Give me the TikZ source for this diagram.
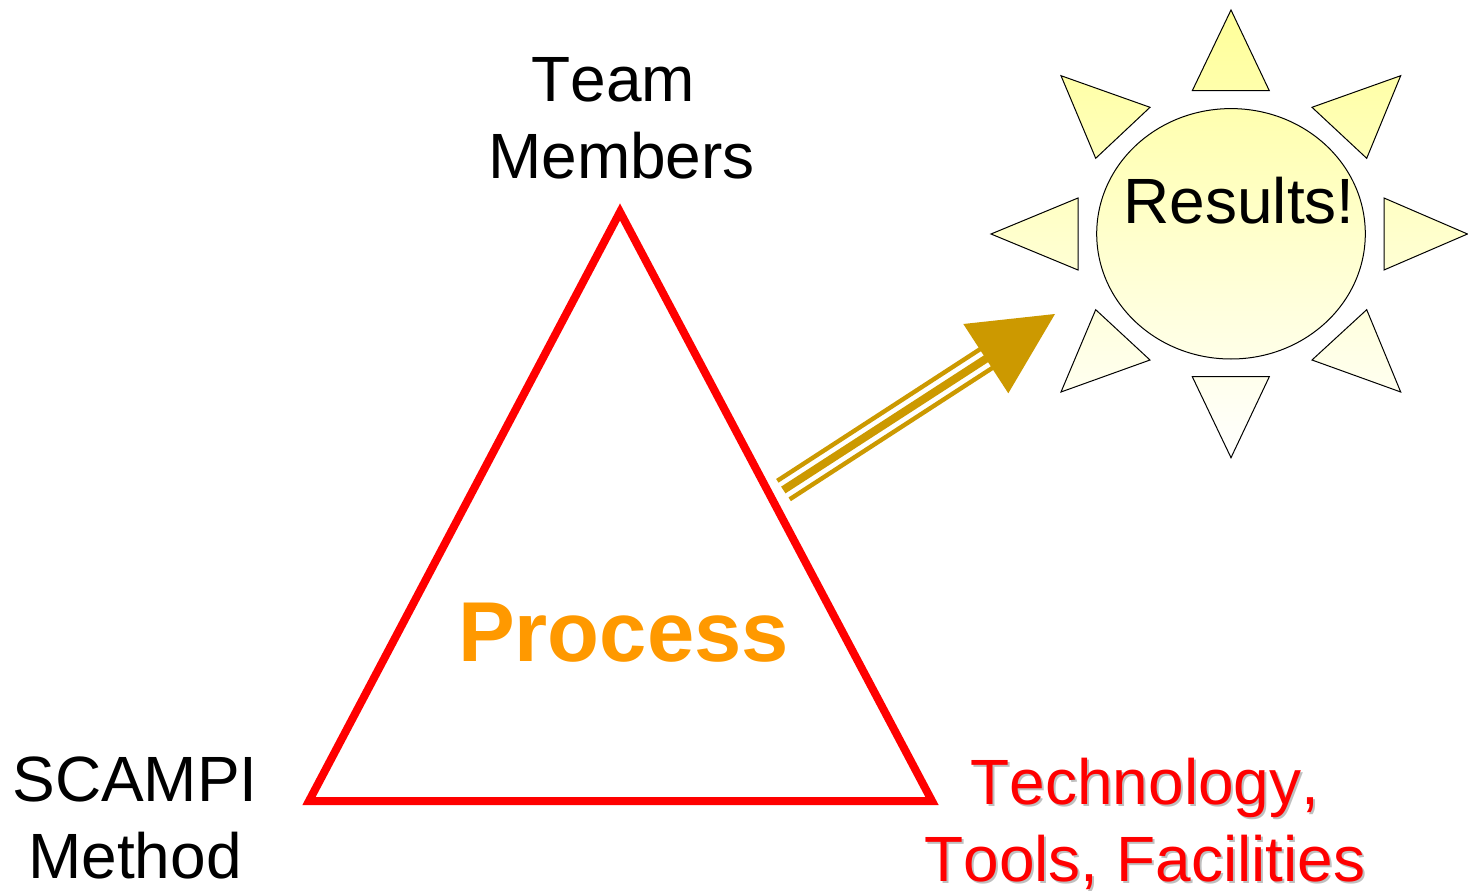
\documentclass[tikz,border=0pt]{standalone}
\usepackage{fontspec}
\setmainfont[Kerning=Off]{Liberation Sans}
\definecolor{arrowgold}{HTML}{CC9900}
\definecolor{procorange}{HTML}{FF9900}
\definecolor{sunTop}{HTML}{FFFF99}
\definecolor{sunBottom}{HTML}{FFFFFF}
\definecolor{shadowgrey}{HTML}{BFBFBF}
\tikzset{
  label/.style={align=center,inner sep=0pt,font=\fontsize{64}{77}\selectfont},
  outline/.style={draw=black,line width=1pt,line join=miter},
  shaft/.style={draw=arrowgold,line cap=butt},
}
\newcommand{\sunshapes}{
  (1231,10)--(1192.3,90.7)--(1269.3,90.7)--cycle
  (1061,75.7)--(1150,107.3)--(1095.7,158.3)--cycle
  (1400.7,75.7)--(1312,107.3)--(1366.7,158.3)--cycle
  (991,234)--(1078,198)--(1078,270)--cycle
  (1467.5,234)--(1384,198)--(1384,270)--cycle
  (1095.7,309.7)--(1150,360)--(1061,392)--cycle
  (1366.7,309.7)--(1312,360)--(1400.7,392)--cycle
  (1192.3,376.7)--(1269.3,376.7)--(1231,457.7)--cycle
  (1231,233.8) ellipse [x radius=134.3,y radius=125.2]
}
\begin{document}
\begin{tikzpicture}[x=1pt,y=-1pt]
\useasboundingbox (0,0) rectangle (1468,891);
% sun: one vertical gradient runs through all its parts
\begin{scope}
  \clip \sunshapes;
  \shade[top color=sunTop,bottom color=sunBottom] (980,10) rectangle (1468,458);
\end{scope}
\draw[outline] \sunshapes;
% triangle
\draw[draw=red,line width=8pt,line join=miter] (620,212)--(932,801)--(309,801)--cycle;
% arrow
\coordinate (tip) at (1055,314);
\coordinate (headA) at (963.3,324);
\coordinate (headB) at (1008.3,393.3);
\coordinate (c0) at (783.3,490);
\coordinate (c1) at (1000,349.7);
\coordinate (u0) at (777.3,480.8);
\coordinate (u1) at (985,346);
\coordinate (l0) at (789.7,499.3);
\coordinate (l1) at (1000,363);
\draw[shaft,line width=8pt] (c0)--(c1);
\draw[shaft,line width=4.4pt] (u0)--(u1);
\draw[shaft,line width=4.4pt] (l0)--(l1);
\fill[arrowgold] (tip)--(headA)--(headB)--cycle;
% labels
\node[label] (team) at (621.5,118) {Team\hspace{16pt}\mbox{}\\Members};
\node[label] (scampi) at (135,818) {SCAMPI\\Method};
\node[label,text=shadowgrey] (techshadow) at (1147,825.5) {Technology,\\Tools, Facilities};
\node[label,text=red] (tech) at (1145,823.5) {Technology,\\Tools, Facilities};
\node[label] (results) at (1239,201) {Results!};
\node[inner sep=0pt,text=procorange,font=\fontsize{85}{90}\selectfont\bfseries] (process) at (623.5,633) {Process};
\end{tikzpicture}
\end{document}
